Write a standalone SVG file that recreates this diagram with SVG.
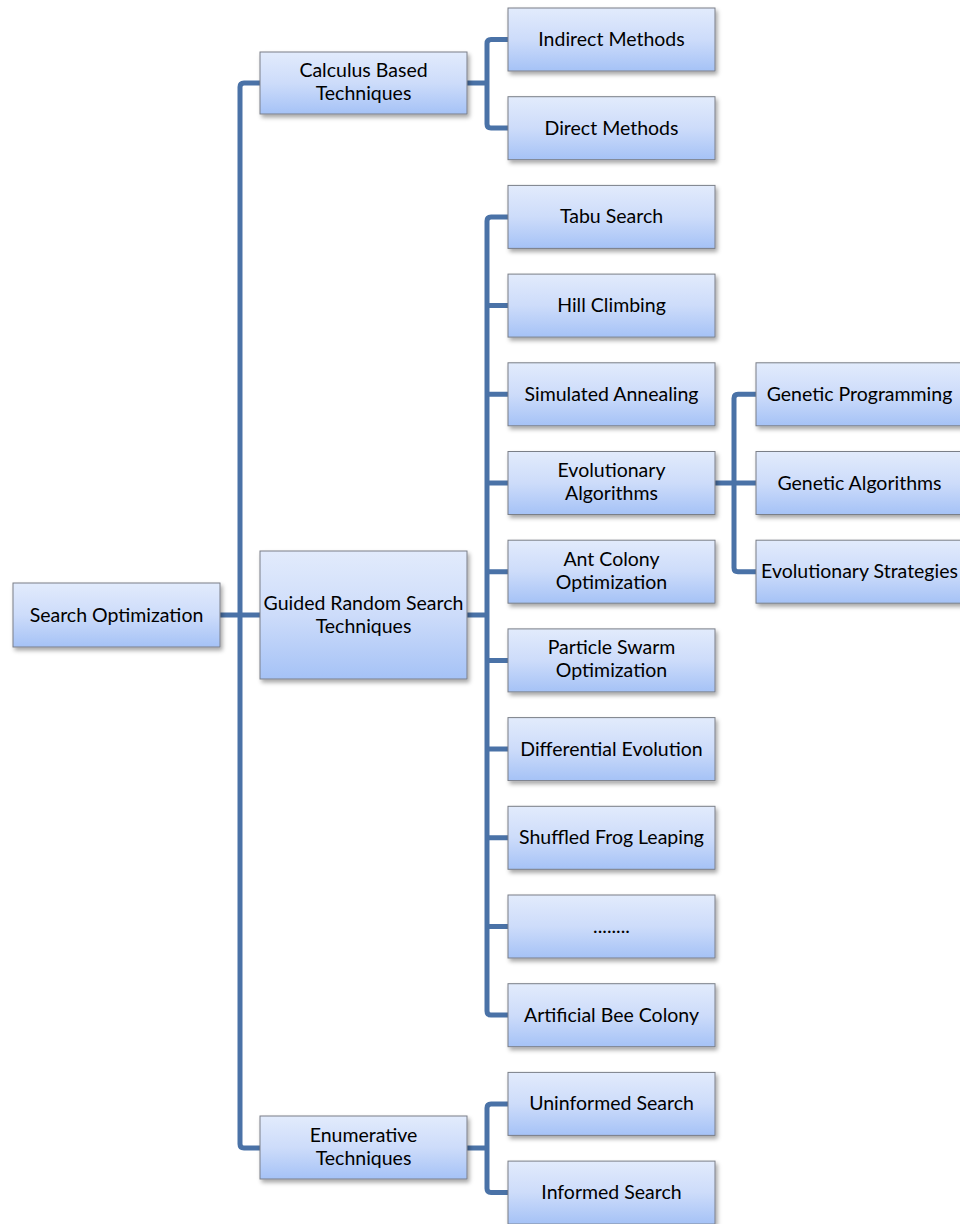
<svg xmlns="http://www.w3.org/2000/svg" width="960" height="1224" viewBox="0 0 960 1224">
<defs>
<linearGradient id="g" x1="0" y1="0" x2="0" y2="1">
<stop offset="0" stop-color="#e2ebfc"/>
<stop offset="0.5" stop-color="#cddcfa"/>
<stop offset="1" stop-color="#a5c2f6"/>
</linearGradient>
<filter id="sh" x="-10%" y="-20%" width="130%" height="150%">
<feDropShadow dx="2" dy="3" stdDeviation="2" flood-color="#000" flood-opacity="0.35"/>
</filter>
</defs>
<style>
.box{fill:url(#g);stroke:#7a7f88;stroke-width:1;filter:url(#sh)}
.t{font-family:Lato,"Liberation Sans",sans-serif;font-size:19.5px;fill:#000;text-anchor:middle}
.c{fill:none;stroke:#4a72a7;stroke-width:5;stroke-linejoin:round}
</style>
<g id="connectors">
<path class="c" d="M220,615 H260"/>
<path class="c" d="M260,83 H244 Q240,83 240,87 V1144 Q240,1148 244,1148 H260"/>
<path class="c" d="M467,83 H487"/>
<path class="c" d="M508,39.5 H491 Q487,39.5 487,43.5 V124 Q487,128 491,128 H508"/>
<path class="c" d="M467,615 H487"/>
<path class="c" d="M508,217 H491 Q487,217 487,221 V1011 Q487,1015 491,1015 H508"/>
<path class="c" d="M487,305.6 H508 M487,394.3 H508 M487,483 H508 M487,571.7 H508 M487,660.4 H508 M487,749.1 H508 M487,837.8 H508 M487,926.5 H508"/>
<path class="c" d="M715,483 H756"/>
<path class="c" d="M756,394.3 H738 Q734,394.3 734,398.3 V567.7 Q734,571.7 738,571.7 H756"/>
<path class="c" d="M467,1148 H487"/>
<path class="c" d="M508,1104 H491 Q487,1104 487,1108 V1188.6 Q487,1192.6 491,1192.6 H508"/>
</g>
<g id="n-search"><rect class="box" x="13" y="583" width="207" height="64"/><text class="t" x="116.5" y="621.5">Search Optimization</text></g>
<g id="n-calculus"><rect class="box" x="260" y="52" width="207" height="62"/><text class="t" x="363.5" y="77">Calculus Based</text><text class="t" x="363.5" y="100">Techniques</text></g>
<g id="n-guided"><rect class="box" x="260" y="551" width="207" height="128"/><text class="t" x="363.5" y="610">Guided Random Search</text><text class="t" x="363.5" y="633">Techniques</text></g>
<g id="n-enum"><rect class="box" x="260" y="1116" width="207" height="63"/><text class="t" x="363.5" y="1141.5">Enumerative</text><text class="t" x="363.5" y="1164.5">Techniques</text></g>
<g id="n-indirect"><rect class="box" x="508" y="8" width="207" height="63"/><text class="t" x="611.5" y="46">Indirect Methods</text></g>
<g id="n-direct"><rect class="box" x="508" y="96.7" width="207" height="63"/><text class="t" x="611.5" y="134.7">Direct Methods</text></g>
<g id="n-tabu"><rect class="box" x="508" y="185.4" width="207" height="63"/><text class="t" x="611.5" y="223.4">Tabu Search</text></g>
<g id="n-hill"><rect class="box" x="508" y="274.1" width="207" height="63"/><text class="t" x="611.5" y="312.1">Hill Climbing</text></g>
<g id="n-sa"><rect class="box" x="508" y="362.8" width="207" height="63"/><text class="t" x="611.5" y="400.8">Simulated Annealing</text></g>
<g id="n-ea"><rect class="box" x="508" y="451.5" width="207" height="63"/><text class="t" x="611.5" y="477">Evolutionary</text><text class="t" x="611.5" y="500">Algorithms</text></g>
<g id="n-aco"><rect class="box" x="508" y="540.2" width="207" height="63"/><text class="t" x="611.5" y="565.7">Ant Colony</text><text class="t" x="611.5" y="588.7">Optimization</text></g>
<g id="n-pso"><rect class="box" x="508" y="628.9" width="207" height="63"/><text class="t" x="611.5" y="654.4">Particle Swarm</text><text class="t" x="611.5" y="677.4">Optimization</text></g>
<g id="n-de"><rect class="box" x="508" y="717.6" width="207" height="63"/><text class="t" x="611.5" y="755.6">Differential Evolution</text></g>
<g id="n-sfl"><rect class="box" x="508" y="806.3" width="207" height="63"/><text class="t" x="611.5" y="844.3">Shuffled Frog Leaping</text></g>
<g id="n-dots"><rect class="box" x="508" y="895" width="207" height="63"/><text class="t" x="611.5" y="933">........</text></g>
<g id="n-abc"><rect class="box" x="508" y="983.7" width="207" height="63"/><text class="t" x="611.5" y="1021.7">Artificial Bee Colony</text></g>
<g id="n-uninf"><rect class="box" x="508" y="1072.4" width="207" height="63"/><text class="t" x="611.5" y="1110.4">Uninformed Search</text></g>
<g id="n-inf"><rect class="box" x="508" y="1161.1" width="207" height="63"/><text class="t" x="611.5" y="1199.1">Informed Search</text></g>
<g id="n-gp"><rect class="box" x="756" y="362.8" width="207" height="63"/><text class="t" x="859.5" y="400.8">Genetic Programming</text></g>
<g id="n-ga"><rect class="box" x="756" y="451.5" width="207" height="63"/><text class="t" x="859.5" y="489.5">Genetic Algorithms</text></g>
<g id="n-es"><rect class="box" x="756" y="540.2" width="207" height="63"/><text class="t" x="859.5" y="578.2">Evolutionary Strategies</text></g>
</svg>
